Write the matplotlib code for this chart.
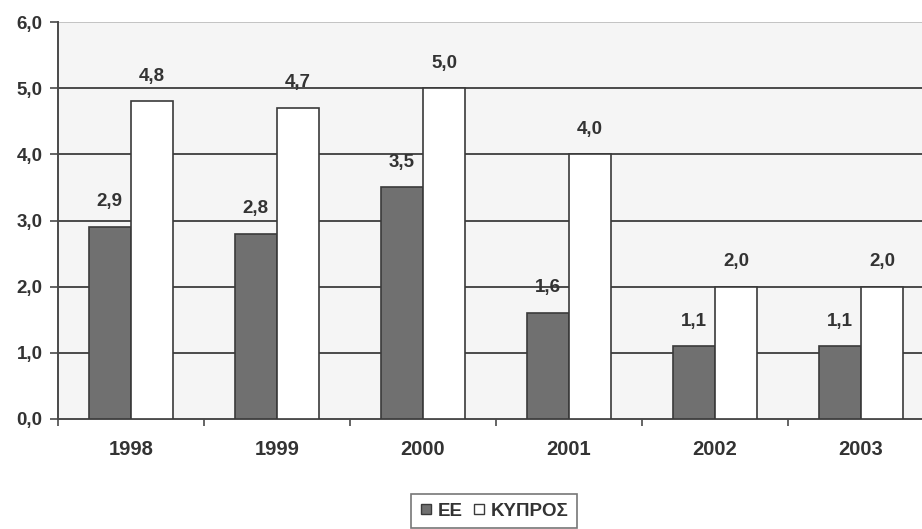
import matplotlib.pyplot as plt
import numpy as np
from matplotlib.lines import Line2D

# Data
years = ['1998', '1999', '2000', '2001', '2002', '2003']
ee = [2.9, 2.8, 3.5, 1.6, 1.1, 1.1]
kypros = [4.8, 4.7, 5.0, 4.0, 2.0, 2.0]
yticks = [0, 1, 2, 3, 4, 5, 6]

plt.rcParams['font.family'] = ['Liberation Sans', 'DejaVu Sans']
txt = '#333333'
line_c = '#4a4a4a'

fig = plt.figure(figsize=(9.22, 5.29), dpi=100)
# axes deliberately runs past the right edge, like the scanned original
ax = fig.add_axes([58 / 922, 110 / 529, 876 / 922, 397 / 529])
ax.set_facecolor('#f5f5f5')

x = np.arange(len(years))
w = 0.29
b1 = ax.bar(x - w / 2, ee, w, color='#707070', edgecolor='#3a3a3a', linewidth=1.2, zorder=3)
b2 = ax.bar(x + w / 2, kypros, w, color='white', edgecolor='#3a3a3a', linewidth=1.2, zorder=3)

for bars, vals in ((b1, ee), (b2, kypros)):
    for r, v in zip(bars, vals):
        ax.annotate(f'{v:.1f}'.replace('.', ','), (r.get_x() + r.get_width() / 2, v),
                    xytext=(0, 12), textcoords='offset points', ha='center', va='bottom',
                    fontsize=13.5, fontweight='bold', color=txt)

for y in yticks[1:-1]:
    ax.axhline(y, color=line_c, linewidth=1.4, zorder=1)
ax.axhline(6, color='#bbbbbb', linewidth=1.2, zorder=1)

ax.set_xlim(-0.5, 5.5)
ax.set_ylim(0, 6)
ax.set_yticks(yticks)
ax.set_yticklabels([f'{v:.1f}'.replace('.', ',') for v in yticks])
ax.set_xticks(x)
ax.set_xticklabels(years)
ax.set_xticks(np.arange(-0.5, 6, 1), minor=True)
ax.tick_params(axis='x', which='major', length=0, pad=15)
ax.tick_params(axis='x', which='minor', length=5, color=line_c, width=1.2)
ax.tick_params(axis='y', length=6, color=line_c, width=1.2, pad=5)
for lab in ax.get_yticklabels():
    lab.set_fontsize(13.5)
for lab in ax.get_xticklabels():
    lab.set_fontsize(14.5)
for lab in ax.get_xticklabels() + ax.get_yticklabels():
    lab.set_fontweight('bold')
    lab.set_color(txt)

for s in ('top', 'right'):
    ax.spines[s].set_visible(False)
for s in ('left', 'bottom'):
    ax.spines[s].set_color(line_c)
    ax.spines[s].set_linewidth(1.4)

handles = [
    Line2D([], [], marker='s', linestyle='none', markersize=7,
           markerfacecolor='#707070', markeredgecolor='#3a3a3a'),
    Line2D([], [], marker='s', linestyle='none', markersize=7,
           markerfacecolor='white', markeredgecolor='#3a3a3a'),
]
leg = fig.legend(handles, ['ΕΕ', 'ΚΥΠΡΟΣ'], loc='upper center',
                 bbox_to_anchor=(494 / 922, 35 / 529), ncol=2, frameon=True,
                 fancybox=False, handlelength=0.7, handletextpad=0.3,
                 columnspacing=0.5, borderpad=0.45, borderaxespad=0,
                 prop={'size': 13.5, 'weight': 'bold'})
leg.get_frame().set_edgecolor('#555555')
leg.get_frame().set_linewidth(1.2)
for t in leg.get_texts():
    t.set_color(txt)

fig.savefig('out.png', dpi=100)
